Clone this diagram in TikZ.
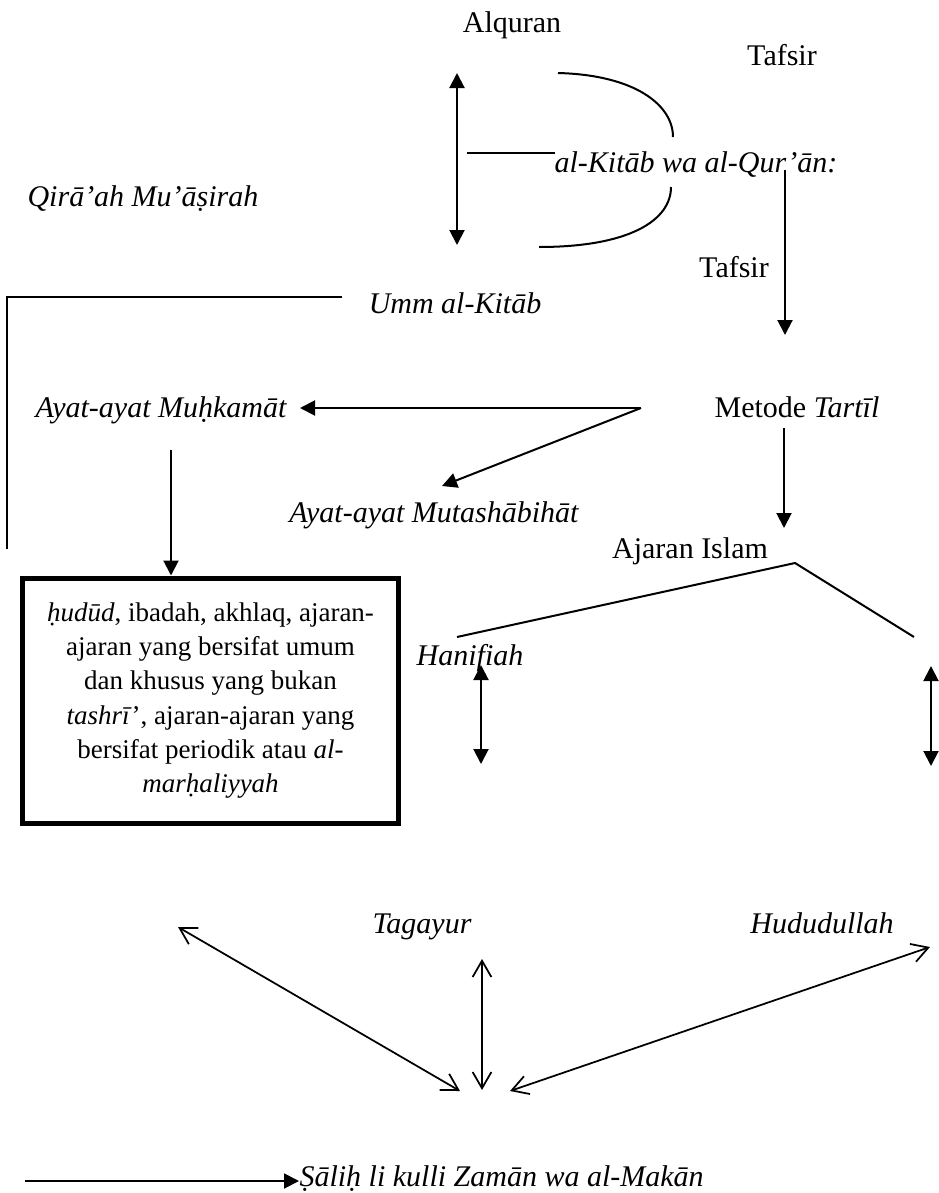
\documentclass[tikz,border=0pt]{standalone}
\usepackage{fontspec}
\setmainfont{Liberation Serif}
\usetikzlibrary{arrows.meta}
\begin{document}
\begin{tikzpicture}[x=0.4pt,y=-0.4pt,
  lbl/.style={anchor=base,inner sep=0pt,font=\fontsize{12}{14}\selectfont},
  ln/.style={line width=0.8pt},
  fa/.style={ln,-{Triangle[length=6pt,width=6pt]}},
  fda/.style={ln,{Triangle[length=6pt,width=6pt]}-{Triangle[length=6pt,width=6pt]}},
  oda/.style={line width=0.7pt,{Straight Barb[length=6.5pt,width=7.5pt]}-{Straight Barb[length=6.5pt,width=7.5pt]}},
  bigbox/.style={draw,line width=2pt,minimum width=150pt,minimum height=98pt,inner sep=0pt,align=center,font=\fontsize{10.8}{13.7}\selectfont}]
\useasboundingbox (0,0) rectangle (939,1193);

% labels
\node[lbl] (alq) at (512,32) {Alquran};
\node[lbl] (taf1) at (782,65) {Tafsir};
\node[lbl] (kit) at (696,172) {\itshape al-Kitāb wa al-Qur’ān:};
\node[lbl] (qir) at (143,206) {\itshape Qirā’ah Mu’āṣirah};
\node[lbl] (taf2) at (734,277) {Tafsir};
\node[lbl] (umm) at (455,313) {\itshape Umm al-Kitāb};
\node[lbl] (muh) at (161,417) {\itshape Ayat-ayat Muḥkamāt};
\node[lbl] (met) at (797,417) {Metode \textit{Tartīl}};
\node[lbl] (mut) at (434,522) {\itshape Ayat-ayat Mutashābihāt};
\node[lbl] (aji) at (690,558) {Ajaran Islam};
\node[lbl] (han) at (470,665) {\itshape Hanifiah};
\node[lbl] (tag) at (422,933) {\itshape Tagayur};
\node[lbl] (hud) at (822,933) {\itshape Hududullah};
\node[lbl,anchor=base west] (sal) at (299,1186) {\itshape Ṣāliḥ li kulli Zamān wa al-Makān};

\node[bigbox] (box) at (210.5,700.5) {\textit{ḥudūd}, ibadah, akhlaq, ajaran-\\ajaran yang bersifat umum\\dan khusus yang bukan\\\textit{tashrī}’, ajaran-ajaran yang\\bersifat periodik atau \textit{al-}\\\textit{marḥaliyyah}};

% coordinates
\coordinate (d1t) at (457,73);
\coordinate (d1b) at (457,245);
\coordinate (arcTa) at (558,73);
\coordinate (arcTb) at (673,137);
\coordinate (arcBa) at (671,187);
\coordinate (arcBb) at (539,247);
\coordinate (hl) at (467,153);
\coordinate (hr) at (555,153);
\coordinate (v1t) at (785,170);
\coordinate (v1b) at (785,335);
\coordinate (bracketR) at (342,297);
\coordinate (bracketC) at (7,297);
\coordinate (bracketB) at (7,549);
\coordinate (apex) at (641,408);
\coordinate (muhtip) at (300,408);
\coordinate (muttip) at (442,486);
\coordinate (v2t) at (171,450);
\coordinate (v3t) at (784,428);
\coordinate (v3b) at (784,528);
\coordinate (roof) at (795,563);
\coordinate (roofL) at (457,637);
\coordinate (roofR) at (914,637);
\coordinate (dlT) at (481,665);
\coordinate (dlB) at (481,764);
\coordinate (drT) at (931,666);
\coordinate (drB) at (931,766);
\coordinate (b1a) at (178,927);
\coordinate (b1b) at (460,1091);
\coordinate (b2a) at (482,959);
\coordinate (b2b) at (482,1090);
\coordinate (b3a) at (510,1091);
\coordinate (b3b) at (930,947);
\coordinate (bs) at (25,1181);

% connectors
\draw[fda] (d1t) -- (d1b);
\draw[ln] (arcTa) .. controls (635,75) and (673,105) .. (arcTb);
\draw[ln] (arcBa) .. controls (671,220) and (630,247) .. (arcBb);
\draw[ln] (hl) -- (hr);
\draw[fa] (v1t) -- (v1b);
\draw[ln] (bracketR) -- (bracketC) -- (bracketB);
\draw[fa] (apex) -- (muhtip);
\draw[fa] (apex) -- (muttip);
\draw[fa] (v2t) -- (box.north -| v2t);
\draw[fa] (v3t) -- (v3b);
\draw[ln] (roofL) -- (roof) -- (roofR);
\draw[fda] (dlT) -- (dlB);
\draw[fda] (drT) -- (drB);
\draw[oda] (b1a) -- (b1b);
\draw[oda] (b2a) -- (b2b);
\draw[oda] (b3a) -- (b3b);
\draw[fa] (bs) -- (sal.west |- bs);
\end{tikzpicture}
\end{document}
